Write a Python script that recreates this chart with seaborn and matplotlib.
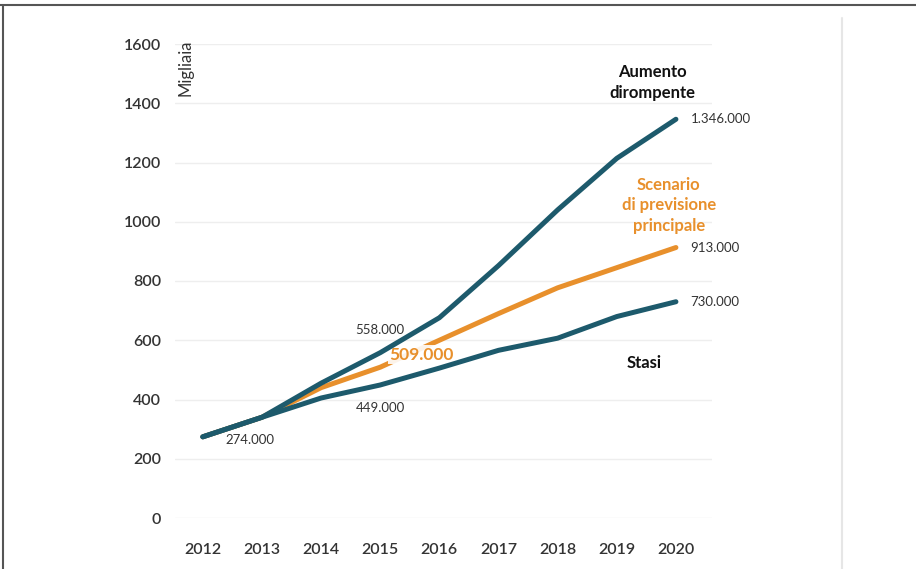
import matplotlib.pyplot as plt
import pandas as pd
import seaborn as sns
from matplotlib.lines import Line2D

years = [2012, 2013, 2014, 2015, 2016, 2017, 2018, 2019, 2020]
principale = [274, 340, 440, 509, 600, 690, 777, 845, 913]
aumento = [274, 340, 455, 558, 676, 852, 1040, 1214, 1346]
stasi = [274, 340, 405, 449, 506, 566, 607, 680, 730]

TEAL = "#1d5a6c"
ORANGE = "#e8902c"
TEXT = "#333333"


def main() -> None:
    df = pd.concat([
        pd.DataFrame({"anno": years, "valore": principale, "scenario": "Principale"}),
        pd.DataFrame({"anno": years, "valore": aumento, "scenario": "Aumento"}),
        pd.DataFrame({"anno": years, "valore": stasi, "scenario": "Stasi"}),
    ])

    sns.set_theme(style="white")
    plt.rcParams["font.family"] = ["Lato", "DejaVu Sans"]

    fig = plt.figure(figsize=(9.16, 5.69), dpi=100)
    ax = fig.add_axes([175 / 916, 51 / 569, 537 / 916, 474 / 569])

    sns.lineplot(data=df, x="anno", y="valore", hue="scenario",
                 palette={"Principale": ORANGE, "Aumento": TEAL, "Stasi": TEAL},
                 linewidth=3.6, legend=False, ax=ax, clip_on=False)
    # teal lines sit above the orange one and its label
    for line in ax.lines:
        if line.get_color() == TEAL:
            line.set_zorder(4)

    ax.set_xlim(2011.53, 2020.61)
    ax.set_ylim(0, 1600)
    ax.set_yticks(range(0, 1601, 200))
    ax.set_xticks(years)
    ax.yaxis.grid(True, color="#eeeeee", linewidth=1)
    ax.set_axisbelow(True)
    sns.despine(ax=ax, left=True, bottom=True)
    ax.tick_params(axis="y", length=0, pad=10, labelsize=11.5, labelcolor=TEXT)
    ax.tick_params(axis="x", length=0, pad=18, labelsize=11.5, labelcolor=TEXT)
    for lab in ax.get_xticklabels() + ax.get_yticklabels():
        lab.set_fontweight("semibold")
    ax.set_xlabel("")
    ax.set_ylabel("")

    ax.text(2011.7, 1615, "Migliaia", rotation=90, ha="center", va="top",
            fontsize=12, color=TEXT)

    small = dict(fontsize=9.5, color=TEXT)
    ax.text(2020.25, aumento[-1], "1.346.000", ha="left", va="center", **small)
    ax.text(2020.25, principale[-1], "913.000", ha="left", va="center", **small)
    ax.text(2020.25, stasi[-1], "730.000", ha="left", va="center", **small)
    ax.text(2015.0, 635, "558.000", ha="center", va="center", **small)
    ax.text(2015.0, 372, "449.000", ha="center", va="center", **small)
    ax.text(2012.8, 264, "274.000", ha="center", va="center", **small)
    ax.text(2015.7, 551, "509.000", ha="center", va="center", fontsize=12.5,
            fontweight="bold", color=ORANGE, zorder=3,
            bbox=dict(boxstyle="square,pad=0.08", fc="white", ec="none", alpha=0.9))

    ax.text(2019.61, 1470, "Aumento\ndirompente", ha="center", va="center",
            fontsize=12, fontweight="bold", color="#111111", linespacing=1.4)
    ax.text(2019.88, 1055, "Scenario\ndi previsione\nprincipale", ha="center",
            va="center", fontsize=12, fontweight="bold", color=ORANGE,
            linespacing=1.35)
    ax.text(2019.47, 522, "Stasi", ha="center", va="center", fontsize=12,
            fontweight="bold", color="#111111")

    # frame of the scanned page
    fig.add_artist(Line2D([0, 1], [1 - 5 / 569, 1 - 5 / 569], color="#555555",
                          linewidth=1.5, transform=fig.transFigure))
    fig.add_artist(Line2D([3 / 916, 3 / 916], [0, 1 - 5 / 569], color="#555555",
                          linewidth=1.5, transform=fig.transFigure))
    fig.add_artist(Line2D([842 / 916, 842 / 916], [0, 1 - 18 / 569], color="#e6e6e6",
                          linewidth=1.5, transform=fig.transFigure))

    fig.savefig("out.png", dpi=100)


if __name__ == "__main__":
    main()
